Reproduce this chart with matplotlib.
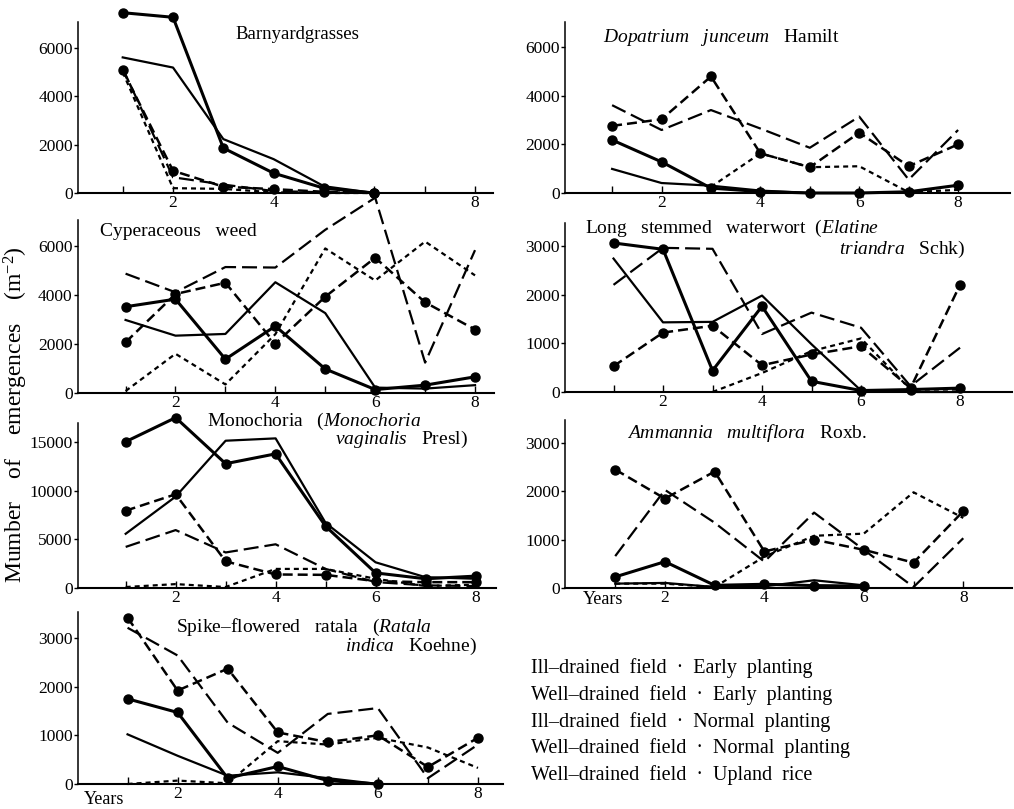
import numpy as np
import matplotlib
matplotlib.use("Agg")
import matplotlib.pyplot as plt

plt.rcParams["font.family"] = ["Liberation Serif", "DejaVu Serif"]
plt.rcParams["mathtext.fontset"] = "custom"
plt.rcParams["mathtext.rm"] = "Liberation Serif"
plt.rcParams["mathtext.it"] = "Liberation Serif:italic"
plt.rcParams["lines.scale_dashes"] = False

W, H = 1014, 809
nan = np.nan
years = [1, 2, 3, 4, 5, 6, 7, 8]

legend_labels = [
    "Ill\u2013drained  field  \u00b7  Early  planting",
    "Well\u2013drained  field  \u00b7  Early  planting",
    "Ill\u2013drained  field  \u00b7  Normal  planting",
    "Well\u2013drained  field  \u00b7  Normal  planting",
    "Well\u2013drained  field  \u00b7  Upland  rice",
]

# order of every panel: ill early, well early, ill normal, well normal, upland
barn_ill_early = [7460, 7270, 1860, 820, 200, 0, nan, nan]
barn_well_early = [5610, 5190, 2230, 1400, 280, 0, nan, nan]
barn_ill_normal = [5090, 920, 260, 160, 50, 0, nan, nan]
barn_well_normal = [5150, 650, 350, 80, 30, 0, nan, nan]
barn_upland = [5000, 200, 170, 30, 0, 0, nan, nan]

dopa_ill_early = [2180, 1280, 200, 60, 0, 0, 50, 320]
dopa_well_early = [990, 410, 300, 100, 0, nan, nan, nan]
dopa_ill_normal = [2760, 3030, 4790, 1630, 1060, 2480, 1100, 2000]
dopa_well_normal = [3610, 2590, 3410, 2650, 1860, 3140, 550, 2590]
dopa_upland = [nan, nan, 250, 1630, 1060, 1100, 30, 130]

cype_ill_early = [3520, 3830, 1380, 2730, 980, 140, 320, 660]
cype_well_early = [2980, 2340, 2410, 4520, 3260, 220, 180, 320]
cype_ill_normal = [2070, 4040, 4500, 2010, 3930, 5520, 3700, 2590]
cype_well_normal = [4870, 4110, 5140, 5120, 6660, 7970, 1240, 5830]
cype_upland = [80, 1600, 350, 2400, 5900, 4590, 6180, 4800]

wort_ill_early = [3060, 2930, 440, 1760, 220, 30, 50, 80]
wort_well_early = [2740, 1430, 1440, 1980, 980, 30, 0, 0]
wort_ill_normal = [530, 1220, 1360, 550, 770, 940, 80, 2200]
wort_well_normal = [2200, 2960, 2940, 1190, 1630, 1320, 120, 910]
wort_upland = [nan, nan, 0, 390, 840, 1100, 50, 50]

mono_ill_early = [15030, 17500, 12770, 13780, 6350, 1550, 950, 1220]
mono_well_early = [5570, 9390, 15130, 15370, 6690, 2640, 1110, 950]
mono_ill_normal = [7940, 9630, 2740, 1390, 1350, 700, 600, 600]
mono_well_normal = [4220, 5950, 3650, 4490, 1960, 610, 270, 200]
mono_upland = [100, 400, 100, 1960, 1960, 950, 200, 340]

amma_ill_early = [230, 545, 55, 77, 50, 40, nan, nan]
amma_well_early = [90, 105, 20, 35, 160, 55, nan, nan]
amma_ill_normal = [2450, 1850, 2410, 755, 1000, 790, 525, 1590]
amma_well_normal = [660, 2030, 1350, 545, 1560, 790, 20, 1030]
amma_upland = [90, 90, 20, 650, 1080, 1125, 1980, 1450]

rata_ill_early = [1750, 1470, 120, 360, 70, 0, nan, nan]
rata_well_early = [1020, 580, 170, 240, 120, 0, nan, nan]
rata_ill_normal = [3420, 1920, 2370, 1060, 860, 1000, 350, 950]
rata_well_normal = [3210, 2640, 1260, 640, 1440, 1560, 120, 810]
rata_upland = [0, 70, 15, 880, 810, 950, 750, 330]

styles = [
    dict(ls="-", lw=2.2, marker="o", ms=6.5),
    dict(ls="-", lw=1.6),
    dict(ls=(0, (7.2, 3.6)), lw=1.8, marker="o", ms=6.5),
    dict(ls=(0, (10.8, 4.3)), lw=1.6),
    dict(ls=(0, (3.6, 2.9)), lw=1.6),
]

fig = plt.figure(figsize=(W / 100, H / 100), dpi=100)


def add_panel(box, xlim, ylim, yticks, xlabels, series):
    l, t, r, b = box
    ax = fig.add_axes([l / W, 1 - b / H, (r - l) / W, (b - t) / H])
    for vals, st in zip(series, styles):
        ax.plot(years, np.array(vals, dtype=float), color="black",
                clip_on=False, **st)
    ax.set_xlim(xlim)
    ax.set_ylim(ylim)
    ax.spines["top"].set_visible(False)
    ax.spines["right"].set_visible(False)
    ax.spines["left"].set_linewidth(1.1)
    ax.spines["bottom"].set_linewidth(1.5)
    ax.set_yticks(yticks)
    ax.set_yticklabels([str(v) for v in yticks])
    ax.set_xticks(years)
    ax.set_xticklabels([str(y) if y in xlabels else "" for y in years])
    ax.tick_params(axis="y", direction="out", length=3, width=1.0,
                   pad=0.5, labelsize=12.5)
    ax.tick_params(axis="x", direction="in", length=5, width=1.0,
                   pad=1.5, labelsize=12.5)
    ax.patch.set_alpha(0)
    return ax


def ftext(x, y, s, size=14, **kw):
    fig.text(x / W, 1 - y / H, s, fontsize=size, va="baseline", **kw)


add_panel((77.7, 22, 493, 193), (0.105, 8.36), (0, 7075),
          [0, 2000, 4000, 6000], [2, 4, 8],
          [barn_ill_early, barn_well_early, barn_ill_normal,
           barn_well_normal, barn_upland])
add_panel((565, 22, 1010, 193), (0.047, 9.05), (0, 7030),
          [0, 2000, 4000, 6000], [2, 4, 6, 8],
          [dopa_ill_early, dopa_well_early, dopa_ill_normal,
           dopa_well_normal, dopa_upland])
add_panel((77.5, 220, 494, 393), (0.037, 8.38), (0, 7060),
          [0, 2000, 4000, 6000], [2, 4, 6, 8],
          [cype_ill_early, cype_well_early, cype_ill_normal,
           cype_well_normal, cype_upland])
add_panel((565, 223, 1012, 392), (0.02, 9.05), (0, 3470),
          [0, 1000, 2000, 3000], [2, 4, 6, 8],
          [wort_ill_early, wort_well_early, wort_ill_normal,
           wort_well_normal, wort_upland])
add_panel((77.5, 423, 496, 588), (0.036, 8.41), (0, 16950),
          [0, 5000, 10000, 15000], [2, 4, 6, 8],
          [mono_ill_early, mono_well_early, mono_ill_normal,
           mono_well_normal, mono_upland])
add_panel((565, 420, 1012, 588), (-0.01, 8.98), (0, 3476),
          [0, 1000, 2000, 3000], [2, 4, 6, 8],
          [amma_ill_early, amma_well_early, amma_ill_normal,
           amma_well_normal, amma_upland])
add_panel((77.5, 612, 503, 784), (0.0, 8.5), (0, 3534),
          [0, 1000, 2000, 3000], [2, 4, 6, 8],
          [rata_ill_early, rata_well_early, rata_ill_normal,
           rata_well_normal, rata_upland])

# panel titles
ftext(235, 39, "Barnyardgrasses", size=13.5)
ftext(603, 42, r"$\mathit{Dopatrium\ \ \ junceum}$   Hamilt")
ftext(100, 236, "Cyperaceous   weed")
ftext(585, 233, r"Long   stemmed   waterwort  ($\mathit{Elatine}$")
ftext(965, 254, r"$\mathit{triandra}$   Schk)", ha="right")
ftext(207, 426, r"Monochoria   ($\mathit{Monochoria}$")
ftext(468, 444, r"$\mathit{vaginalis}$   Presl)", ha="right")
ftext(627, 438, r"$\mathit{Ammannia\ \ \ multiflora}$   Roxb.")
ftext(176, 632, "Spike\u2013flowered   ratala   ($\\mathit{Ratala}$")
ftext(477, 651, r"$\mathit{indica}$   Koehne)", ha="right")

# "Years" under the first year of the bottom panels
fig.text(603 / W, 1 - 604 / H, "Years", fontsize=13, ha="center",
         va="baseline")
fig.text(104 / W, 1 - 804 / H, "Years", fontsize=13, ha="center",
         va="baseline")

# shared y label
fig.text(16 / W, 1 - 415 / H, r"Mumber    of    emergences    (m$^{-2}$)",
         fontsize=17, rotation=90, ha="center", va="center")

# legend (text only, as in the source)
for i, lab in enumerate(legend_labels):
    ftext(531, 673 + i * 26.8, lab, size=14.5)

fig.savefig("out.png", dpi=100)
